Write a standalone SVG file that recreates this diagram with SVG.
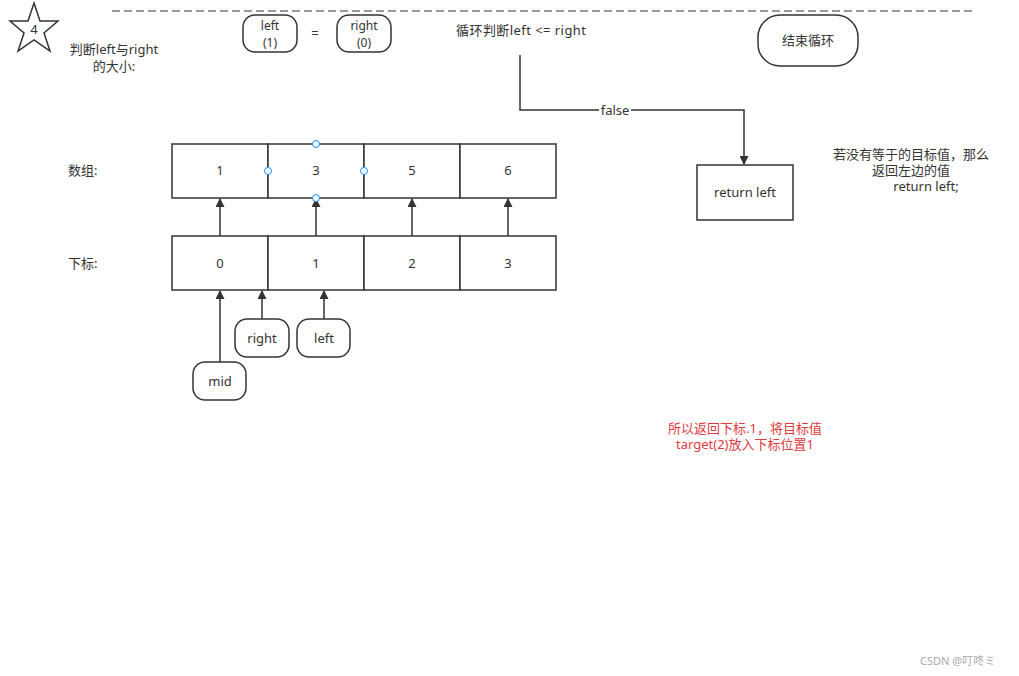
<svg xmlns="http://www.w3.org/2000/svg" width="1019" height="676" viewBox="0 0 1019 676">
<style>
text{font-family:"Noto Sans","Noto Sans CJK SC",sans-serif;font-size:13px;fill:#333;}
.c{text-anchor:middle;}
.s{font-size:12px;}
.box{fill:#fff;stroke:#333;stroke-width:1.5;}
.ln{fill:none;stroke:#333;stroke-width:1.5;}
.h{fill:#fff;stroke:#1a8cff;stroke-width:1;}
</style>
<defs>
<marker id="a" viewBox="0 0 10 10" refX="9" refY="5" markerWidth="11" markerHeight="9" orient="auto" markerUnits="userSpaceOnUse"><path d="M0,0 L10,5 L0,10 z" fill="#333"/></marker>
</defs>
<rect width="1019" height="676" fill="#fff"/>
<line x1="112" y1="11" x2="976" y2="11" stroke="#333" stroke-width="1.2" stroke-dasharray="8,4"/>
<g id="star">
<polygon class="box" points="34,3 40,21 58,21 44,33 50,51 34,40 18,51 24,33 10,21 28,21"/>
<text class="c" x="34" y="34">4</text>
</g>
<g id="title"><text class="c" x="114" y="54">判断left与right</text><text class="c" x="114" y="71">的大小:</text></g>
<g id="leftv"><rect class="box" x="243" y="15" width="54" height="37" rx="12"/><text class="c s" x="270" y="30">left</text><text class="c s" x="270" y="47">(1)</text></g>
<text class="c" x="315" y="38">=</text>
<g id="rightv"><rect class="box" x="337" y="15" width="54" height="37" rx="12"/><text class="c s" x="364" y="30">right</text><text class="c s" x="364" y="47">(0)</text></g>
<g id="cond"><text x="456" y="35" textLength="130" lengthAdjust="spacing">循环判断left &lt;= right</text></g>
<g id="end"><rect class="box" x="758" y="15" width="100" height="51" rx="22"/><text class="c" x="808" y="45">结束循环</text></g>
<g id="ret"><rect class="box" x="697" y="165" width="96" height="55"/><text class="c" x="745" y="197">return left</text></g>
<g id="note"><text class="c" x="911" y="159">若没有等于的目标值，那么</text><text class="c" x="911" y="175">返回左边的值</text><text class="c" x="926" y="191">return left;</text></g>
<g id="lbl"><text x="68" y="175">数组:</text><text x="68" y="268">下标:</text></g>
<g id="arr">
<rect class="box" x="172" y="144" width="96" height="54"/><text class="c" x="220" y="175">1</text>
<rect class="box" x="268" y="144" width="96" height="54"/><text class="c" x="316" y="175">3</text>
<rect class="box" x="364" y="144" width="96" height="54"/><text class="c" x="412" y="175">5</text>
<rect class="box" x="460" y="144" width="96" height="54"/><text class="c" x="508" y="175">6</text>
</g>
<g id="idx">
<rect class="box" x="172" y="236" width="96" height="54"/><text class="c" x="220" y="268">0</text>
<rect class="box" x="268" y="236" width="96" height="54"/><text class="c" x="316" y="268">1</text>
<rect class="box" x="364" y="236" width="96" height="54"/><text class="c" x="412" y="268">2</text>
<rect class="box" x="460" y="236" width="96" height="54"/><text class="c" x="508" y="268">3</text>
</g>
<g id="mid"><rect class="box" x="193" y="362" width="53" height="38" rx="12"/><text class="c" x="220" y="386">mid</text></g>
<g id="rightp"><rect class="box" x="235" y="319" width="54" height="38" rx="12"/><text class="c" x="262" y="343">right</text></g>
<g id="leftp"><rect class="box" x="297" y="319" width="53" height="38" rx="12"/><text class="c" x="324" y="343">left</text></g>
<g id="connectors">
<polyline class="ln" points="520,55 520,110 744,110 744,164" marker-end="url(#a)"/>
<rect x="599" y="102" width="32" height="15" fill="#fff"/>
<text class="c" x="615" y="115">false</text>
<line class="ln" x1="220" y1="236" x2="220" y2="199" marker-end="url(#a)"/>
<line class="ln" x1="316" y1="236" x2="316" y2="199" marker-end="url(#a)"/>
<line class="ln" x1="412" y1="236" x2="412" y2="199" marker-end="url(#a)"/>
<line class="ln" x1="508" y1="236" x2="508" y2="199" marker-end="url(#a)"/>
<line class="ln" x1="220" y1="362" x2="220" y2="291" marker-end="url(#a)"/>
<line class="ln" x1="262" y1="319" x2="262" y2="291" marker-end="url(#a)"/>
<line class="ln" x1="324" y1="319" x2="324" y2="291" marker-end="url(#a)"/>
</g>
<g id="handles">
<circle class="h" cx="316" cy="144" r="3.5"/>
<circle class="h" cx="268" cy="171" r="3.5"/>
<circle class="h" cx="364" cy="171" r="3.5"/>
<circle class="h" cx="316" cy="198" r="3.5"/>
</g>
<g id="red"><text class="c" x="745" y="433" style="fill:#e0393e">所以返回下标.1，将目标值</text><text class="c" x="745" y="449" style="fill:#e0393e">target(2)放入下标位置1</text></g>
<text x="920" y="665" style="fill:#aaa;font-size:11px">CSDN @叮咚ミ</text>
</svg>
